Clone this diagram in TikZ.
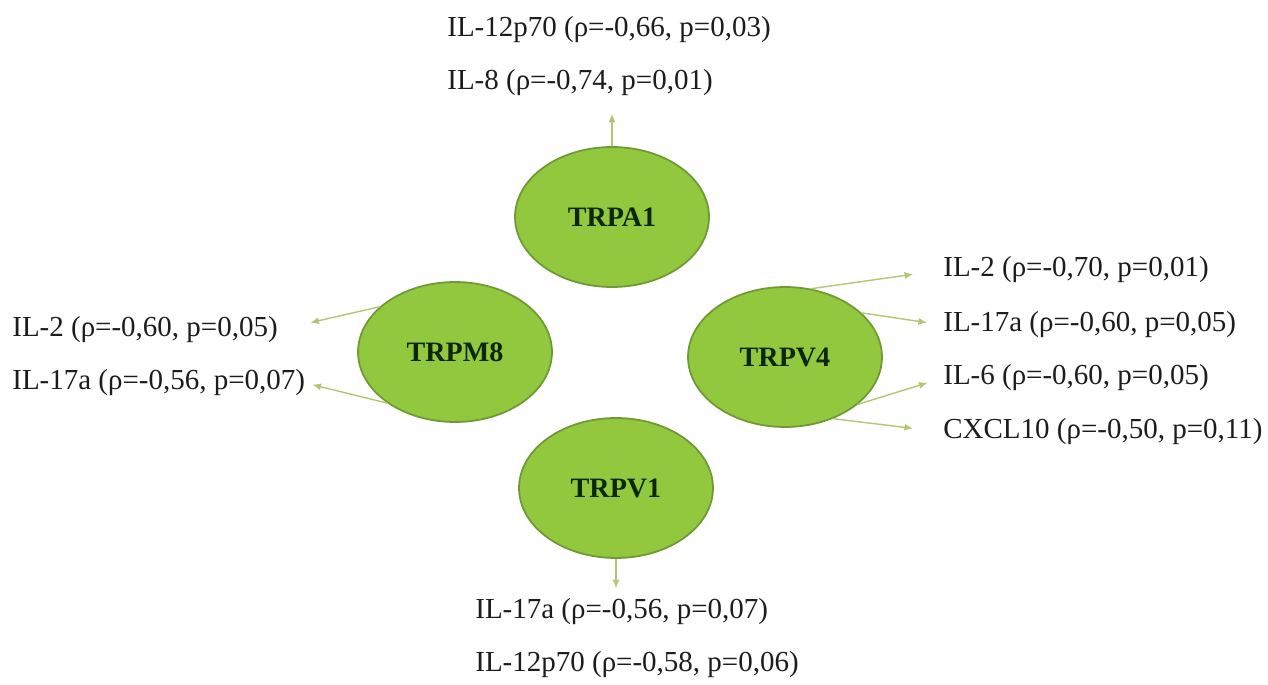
\documentclass[tikz,border=0pt]{standalone}
\usepackage{fontspec}
\setmainfont{Liberation Serif}
\usetikzlibrary{shapes.geometric,arrows.meta}
\definecolor{trpfill}{RGB}{146,200,62}
\definecolor{trpline}{RGB}{112,152,52}
\definecolor{trptext}{RGB}{12,40,12}
\definecolor{arline}{RGB}{178,198,118}
\definecolor{labtext}{RGB}{28,28,28}
\begin{document}
\begin{tikzpicture}
[x=0.02cm, y=-0.02cm,
ar/.style={-{Latex[length=5pt,width=4pt]}, arline, line width=0.8pt},
mynode/.style={
  ellipse, draw=trpline, fill=trpfill, line width=1pt,
  minimum width=3.88cm, minimum height=2.8cm, inner sep=0pt,
  text=trptext, font=\fontsize{16}{19}\selectfont\bfseries
  }
]

\tikzstyle{lab}  =  [anchor=west, inner sep=0pt, text=labtext, font=\fontsize{16.5}{20}\selectfont]

\useasboundingbox (0,0) rectangle (1268,684);

\node[mynode] (a1) at (612,217) {TRPA1};
\node[mynode] (m8) at (455,352) {TRPM8};
\node[mynode] (v4) at (785,357) {TRPV4};
\node[mynode] (v1) at (616,488) {TRPV1};

% labels
\node[lab] (a1l1) at (447,30) {IL-12p70 (ρ=-0,66, p=0,03)};
\node[lab] (a1l2) at (447,83) {IL-8 (ρ=-0,74, p=0,01)};

\node[lab] (m8l1) at (12,330) {IL-2 (ρ=-0,60, p=0,05)};
\node[lab] (m8l2) at (12,383) {IL-17a (ρ=-0,56, p=0,07)};

\node[lab] (v4l1) at (943,270) {IL-2 (ρ=-0,70, p=0,01)};
\node[lab] (v4l2) at (943,325) {IL-17a (ρ=-0,60, p=0,05)};
\node[lab] (v4l3) at (943,378) {IL-6 (ρ=-0,60, p=0,05)};
\node[lab] (v4l4) at (943,432) {CXCL10 (ρ=-0,50, p=0,11)};

\node[lab] (v1l1) at (475,612) {IL-17a (ρ=-0,56, p=0,07)};
\node[lab] (v1l2) at (475,665) {IL-12p70 (ρ=-0,58, p=0,06)};

%edges

\draw[ar, shorten >=0.34cm] (a1.90) -- (a1.90 |- a1l2.south);
\draw[ar, shorten >=0.2cm] (v1.270) -- (v1.270 |- v1l1.north);

\draw[ar, shorten >=0.66cm] (m8.149) -- (m8l1.east);
\draw[ar, shorten >=0.14cm] (m8.217) -- (m8l2.east);

\draw[ar, shorten >=0.6cm] (v4.69) -- (v4l1.west);
\draw[ar, shorten >=0.32cm] (v4.30) -- (v4l2.west);
\draw[ar, shorten >=0.32cm] (v4.-33) -- (v4l3.west);
\draw[ar, shorten >=0.6cm] (v4.-52) -- (v4l4.west);

\end{tikzpicture}
\end{document}
